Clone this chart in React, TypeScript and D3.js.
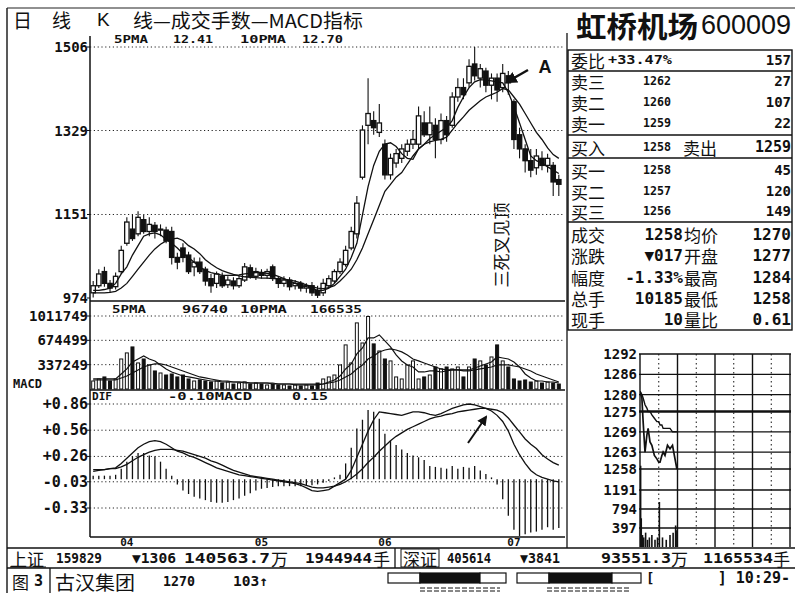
import React from 'react';
import * as d3 from 'd3';

// ---------- Daily K-line data (price in 0.01 yuan) ----------
const opens = [985,1000,1030,1005,998,1030,1090,1120,1110,1140,1115,1128,1118,1118,1115,1060,1080,1065,1040,1050,1035,1015,1005,1020,1002,1010,1000,1012,1038,1020,1028,1022,1040,1015,1005,1012,1000,1005,995,1000,990,985,1000,1010,1030,1045,1080,1110,1230,1340,1350,1325,1300,1235,1260,1270,1285,1300,1300,1345,1320,1340,1310,1350,1340,1400,1420,1430,1470,1440,1455,1425,1440,1420,1445,1390,1320,1290,1265,1250,1270,1255,1255,1225];
const closes = [1000,1025,1005,995,1020,1075,1135,1100,1145,1115,1130,1115,1120,1095,1060,1050,1060,1030,1050,1030,1010,1000,1025,1000,1012,1000,1015,1040,1020,1030,1022,1030,1018,1005,1012,998,1005,995,1000,985,980,1005,1015,1030,1050,1075,1115,1175,1330,1365,1335,1345,1235,1270,1280,1290,1300,1310,1360,1320,1345,1310,1350,1320,1400,1420,1405,1465,1445,1460,1425,1440,1415,1450,1430,1310,1290,1265,1245,1275,1255,1270,1220,1215];
const highs = [1010,1035,1040,1012,1028,1085,1145,1150,1158,1150,1145,1135,1130,1125,1125,1070,1090,1072,1060,1060,1040,1025,1030,1028,1020,1018,1022,1048,1045,1038,1035,1036,1045,1020,1020,1018,1012,1010,1005,1008,1000,1015,1022,1035,1058,1085,1125,1190,1340,1440,1370,1385,1310,1280,1290,1300,1310,1330,1380,1370,1380,1355,1365,1360,1410,1440,1440,1480,1506,1470,1462,1450,1450,1470,1455,1395,1335,1300,1290,1290,1285,1280,1262,1235];
const lows = [975,995,998,985,992,1025,1085,1095,1105,1110,1105,1100,1105,1090,1045,1035,1050,1025,1020,1025,1000,985,995,995,995,992,995,1008,1015,1012,1015,1015,1010,995,998,990,992,988,985,978,974,978,995,1005,1025,1040,1075,1100,1225,1300,1320,1315,1225,1225,1250,1260,1275,1290,1290,1315,1300,1270,1300,1305,1335,1390,1395,1420,1435,1420,1410,1395,1390,1410,1405,1290,1270,1240,1230,1235,1245,1240,1190,1190];
const ma5 = [990,990,992,995,1005,1025,1040,1065,1085,1105,1110,1112,1108,1098,1090,1080,1068,1060,1050,1040,1032,1028,1025,1022,1022,1022,1023,1025,1026,1028,1028,1026,1024,1020,1015,1010,1005,1000,998,995,990,990,995,1005,1020,1035,1060,1090,1150,1210,1255,1285,1300,1303,1295,1280,1270,1268,1290,1300,1312,1320,1328,1335,1350,1378,1400,1420,1432,1437,1436,1434,1432,1430,1410,1380,1345,1310,1275,1265,1260,1252,1245,1238];
const ma10 = [985,985,985,986,988,995,1005,1020,1035,1050,1065,1078,1088,1095,1099,1101,1096,1085,1078,1068,1055,1046,1038,1032,1028,1024,1021,1019,1018,1017,1016,1016,1015,1015,1014,1012,1010,1006,1002,998,995,994,996,1000,1010,1022,1035,1055,1080,1110,1140,1170,1200,1215,1230,1240,1258,1275,1290,1300,1305,1308,1310,1315,1330,1345,1358,1372,1382,1392,1400,1405,1410,1418,1415,1400,1385,1365,1345,1325,1310,1292,1278,1270];

// ---------- Volume (hands) ----------
const volumes = [111000,139000,167000,111000,139000,416000,500000,583000,361000,416000,333000,250000,222000,194000,208000,167000,194000,139000,111000,125000,111000,97000,111000,83000,97000,69000,83000,97000,69000,83000,69000,56000,69000,56000,56000,42000,56000,42000,56000,42000,83000,139000,167000,194000,333000,611000,361000,916000,638000,1005000,625000,527000,416000,389000,167000,139000,333000,389000,139000,167000,194000,305000,278000,305000,278000,305000,167000,305000,416000,389000,333000,444000,611000,389000,305000,139000,111000,125000,97000,111000,83000,97000,83000,69000];
const volMa5 = [139000,139000,139000,139000,139000,208000,278000,375000,416000,458000,416000,389000,333000,278000,236000,208000,180000,167000,153000,139000,125000,111000,111000,97000,97000,97000,97000,83000,83000,83000,83000,83000,69000,69000,69000,69000,56000,56000,56000,56000,56000,69000,97000,125000,180000,278000,347000,486000,569000,708000,708000,750000,666000,583000,472000,389000,333000,305000,236000,236000,250000,250000,236000,250000,264000,264000,264000,264000,291000,319000,347000,375000,444000,430000,416000,375000,305000,208000,153000,111000,111000,97000,97000,83000];
const volMa10 = [125000,125000,125000,125000,125000,153000,180000,222000,264000,305000,333000,347000,347000,333000,305000,278000,250000,222000,194000,167000,153000,139000,125000,111000,111000,97000,97000,97000,83000,83000,83000,83000,83000,69000,69000,69000,69000,69000,69000,69000,69000,69000,83000,97000,125000,167000,208000,278000,333000,416000,458000,514000,541000,555000,541000,514000,472000,416000,389000,361000,333000,305000,278000,264000,264000,264000,250000,250000,264000,278000,291000,305000,333000,333000,333000,319000,305000,278000,250000,208000,180000,153000,125000,97000];

// ---------- MACD ----------
const dif = [0.09,0.10,0.11,0.12,0.13,0.18,0.24,0.30,0.36,0.40,0.43,0.44,0.43,0.40,0.36,0.32,0.30,0.27,0.25,0.22,0.19,0.16,0.13,0.11,0.09,0.07,0.05,0.04,0.03,0.02,0.01,0.0,-0.01,-0.02,-0.03,-0.04,-0.05,-0.07,-0.10,-0.13,-0.14,-0.13,-0.12,-0.08,-0.04,0.0,0.10,0.25,0.40,0.55,0.68,0.77,0.76,0.75,0.74,0.73,0.75,0.77,0.77,0.76,0.74,0.73,0.75,0.78,0.81,0.83,0.85,0.86,0.85,0.83,0.81,0.78,0.73,0.66,0.55,0.40,0.28,0.18,0.10,0.05,0.02,0.0,-0.02,-0.03];
const dea = [0.11,0.11,0.11,0.12,0.12,0.14,0.17,0.21,0.25,0.28,0.31,0.33,0.34,0.34,0.34,0.33,0.32,0.30,0.28,0.26,0.24,0.21,0.19,0.16,0.13,0.10,0.08,0.06,0.04,0.03,0.02,0.01,0.0,-0.01,-0.02,-0.03,-0.04,-0.05,-0.07,-0.09,-0.10,-0.10,-0.09,-0.08,-0.06,-0.03,0.01,0.06,0.12,0.19,0.25,0.32,0.38,0.44,0.49,0.53,0.57,0.60,0.63,0.66,0.69,0.71,0.72,0.74,0.75,0.77,0.78,0.79,0.80,0.81,0.81,0.80,0.79,0.76,0.70,0.62,0.54,0.46,0.40,0.35,0.28,0.23,0.19,0.16];
const macdHist = [0.04,0.04,0.04,0.04,0.05,0.12,0.20,0.26,0.30,0.30,0.27,0.26,0.20,0.12,0.04,-0.06,-0.13,-0.17,-0.20,-0.22,-0.24,-0.26,-0.27,-0.27,-0.26,-0.24,-0.22,-0.19,-0.16,-0.13,-0.11,-0.10,-0.09,-0.08,-0.08,-0.08,-0.08,-0.08,-0.07,-0.07,-0.06,-0.04,-0.02,0.02,0.05,0.18,0.36,0.58,0.68,0.79,0.77,0.69,0.52,0.44,0.39,0.34,0.30,0.27,0.25,0.22,0.15,0.14,0.13,0.12,0.15,0.12,0.14,0.13,0.15,0.10,0.06,0.02,-0.06,-0.23,-0.42,-0.58,-0.65,-0.63,-0.61,-0.60,-0.58,-0.55,-0.58,-0.56];

// ---------- Axis labels ----------
const monthLabels = ['04', '05', '06', '07'];
const monthStart = [6, 30, 52, 75];
const priceTicks = [1506, 1329, 1151, 974];
const volTicks = [1011749, 674499, 337249];
const macdTicks = [0.86, 0.56, 0.26, -0.03, -0.33];
const macdTickText = ['+0.86', '+0.56', '+0.26', '-0.03', '-0.33'];

// ---------- Intraday mini chart ----------
const miniMinutes = [0,3,5,8,11,13,16,19,23,27,30,32,35,37,40,44,48,52,55,59];
const miniPrice = [1281,1279,1272,1263,1268,1270,1266,1265,1262,1261,1260,1260,1262,1263,1262,1265,1264,1265,1262,1258];
const miniAvg = [1281,1280,1279,1277,1276,1275,1275,1274,1273,1272,1272,1271,1271,1270,1270,1270,1270,1269,1269,1269];
const miniVolMin = [1,2,4,6,9,12,15,19,24,28,31,36,42,48,53,57,59];
const miniVol = [1700,600,250,200,300,150,200,250,150,200,940,200,150,250,300,450,350];
const miniPriceTicks = [1292, 1286, 1280, 1275, 1269, 1263, 1258];
const miniVolTicks = [1191, 794, 397];

// ---------- Quote table ----------
const askRows = [['卖三', '1262', '27'], ['卖二', '1260', '107'], ['卖一', '1259', '22']];
const bidRows = [['买一', '1258', '45'], ['买二', '1257', '120'], ['买三', '1256', '149']];
const statRows = [
  ['成交', '1258', '均价', '1270'],
  ['涨跌', '▼017', '开盘', '1277'],
  ['幅度', '-1.33%', '最高', '1284'],
  ['总手', '10185', '最低', '1258'],
  ['现手', '10', '量比', '0.61'],
];
const powerA = [32, 60, 26];
const powerB = [32, 63, 29];

const MONO = "'DejaVu Sans Mono', monospace";
const CJK = "'Noto Sans CJK SC', sans-serif";
const SANS = "'Liberation Sans', Arial, sans-serif";

function T(props: any) {
  const { x, y, s, size = 15, anchor = 'start', font = MONO, weight = 'bold', len, fill = '#111', rotate } = props;
  return (
    <text
      x={x}
      y={y}
      fontSize={size}
      fontFamily={font}
      fontWeight={weight}
      textAnchor={anchor}
      dominantBaseline="central"
      fill={fill}
      textLength={len}
      lengthAdjust={len ? 'spacingAndGlyphs' : undefined}
      transform={rotate}
    >
      {s}
    </text>
  );
}

export default function App() {
  const N = closes.length;
  const x = d3.scaleBand<number>().domain(d3.range(N)).range([91, 561]).paddingInner(0.22);
  const cx = (i: number) => (x(i) as number) + x.bandwidth() / 2;
  const bw = x.bandwidth();
  const yP = d3.scaleLinear().domain([974, 1506]).range([298, 47]);
  const yV = d3.scaleLinear().domain([0, 1011749]).range([389, 316]);
  const yM = d3.scaleLinear().domain([-0.33, 0.86]).range([508, 404]);

  const lineP = d3.line<number>().x((_, i) => cx(i)).y((d) => yP(d));
  const lineV = d3.line<number>().x((_, i) => cx(i)).y((d) => yV(d));
  const lineM = d3.line<number>().x((_, i) => cx(i)).y((d) => yM(d));

  const mx = d3.scaleLinear().domain([0, 240]).range([640, 790]);
  const myP = d3.scaleLinear().domain([1258, 1292]).range([469, 354]);
  const myV = d3.scaleLinear().domain([0, 1191]).range([547, 490]);
  const miniLine = (arr: number[]) =>
    d3.line<number>().x((_, i) => mx(miniMinutes[i])).y((d) => myP(d))(arr) as string;

  const L = 90, R = 565;
  const dot = '1.2,2.6';

  const rowY = { wei: 60, buyin: 147 };
  const askY = [81, 102, 123];
  const bidY = [170, 191, 211];
  const statY = [234, 255, 277, 298, 319];

  const segs = (start: number, arr: number[]) => {
    const cum = d3.cumsum(arr);
    return arr.map((w, k) => ({ x: start + (k === 0 ? 0 : cum[k - 1]), w, dark: k === 1 }));
  };

  return (
    <svg width={795} height={593} style={{ position: 'absolute', left: 0, top: 0, background: '#fff' }}>
      <defs>
        <marker id="ah" viewBox="0 0 10 10" refX="8" refY="5" markerWidth="5" markerHeight="5" orient="auto">
          <path d="M0,0 L10,5 L0,10 z" fill="#111" />
        </marker>
        <clipPath id="cp">
          <rect x={L} y={33} width={R - L} height={537 - 33} />
        </clipPath>
        <clipPath id="mini">
          <rect x={640} y={354} width={151} height={193} />
        </clipPath>
      </defs>
      <rect x={0} y={0} width={795} height={593} fill="#fff" />

      {/* outer frame */}
      <line x1={7} y1={8} x2={795} y2={8} stroke="#222" strokeWidth={1.2} />
      <line x1={7} y1={8} x2={7} y2={593} stroke="#222" strokeWidth={1.5} />

      {/* left title */}
      <T x={13} y={19} s="日" font={CJK} weight="normal" size={19} />
      <T x={52} y={19} s="线" font={CJK} weight="normal" size={19} />
      <T x={97} y={19} s="K" font={SANS} weight="normal" size={19} />
      <T x={133} y={19} s="线—成交手数—MACD指标" font={CJK} weight="normal" size={19} len={230} />

      {/* right title */}
      <T x={576} y={25} s="虹桥机场" font={CJK} weight="bold" size={29} len={122} />
      <T x={701} y={25} s="600009" font={SANS} weight="normal" size={27} />

      {/* chart frame */}
      <line x1={L} y1={36} x2={L} y2={537} stroke="#111" strokeWidth={1.5} />
      <line x1={R + 2} y1={33} x2={R + 2} y2={548} stroke="#111" strokeWidth={1.3} />
      <line x1={L} y1={301} x2={R} y2={301} stroke="#111" strokeWidth={1.3} />
      <line x1={L} y1={390} x2={R} y2={390} stroke="#111" strokeWidth={1.3} />
      <line x1={L} y1={537} x2={R} y2={537} stroke="#111" strokeWidth={1.5} />

      {/* price grid + labels */}
      {priceTicks.map((t, k) => (
        <g key={'pt' + t}>
          {k < 3 && <line x1={L} x2={R} y1={yP(t)} y2={yP(t)} stroke="#222" strokeDasharray={dot} />}
          <line x1={L - 3} x2={L} y1={yP(t)} y2={yP(t)} stroke="#111" />
          <T x={88} y={yP(t)} s={String(t)} anchor="end" size={14} />
        </g>
      ))}
      {volTicks.map((t) => (
        <g key={'vt' + t}>
          <line x1={L} x2={R} y1={yV(t)} y2={yV(t)} stroke="#222" strokeDasharray={dot} />
          <line x1={L - 3} x2={L} y1={yV(t)} y2={yV(t)} stroke="#111" />
          <T x={88} y={yV(t)} s={String(t)} anchor="end" size={14} />
        </g>
      ))}
      <T x={13} y={384} s="MACD" size={12} />
      {macdTicks.map((t, k) => (
        <g key={'mt' + t}>
          <line x1={L} x2={R} y1={yM(t)} y2={yM(t)} stroke="#222" strokeDasharray={dot} />
          <line x1={L - 3} x2={L} y1={yM(t)} y2={yM(t)} stroke="#111" />
          <T x={88} y={yM(t)} s={macdTickText[k]} anchor="end" size={15} />
        </g>
      ))}

      {/* legends */}
      <T x={114} y={39} s="5PMA" size={11} len={34} />
      <T x={173} y={39} s="12.41" size={11} len={40} />
      <T x={240} y={39} s="10PMA" size={11} len={46} />
      <T x={302} y={39} s="12.70" size={11} len={41} />
      <T x={112} y={309} s="5PMA" size={11} len={34} />
      <T x={182} y={309} s="96740" size={11} len={46} />
      <T x={240} y={309} s="10PMA" size={11} len={47} />
      <T x={310} y={309} s="166535" size={11} len={52} />
      <T x={92} y={396} s="DIF" size={11} len={20} />
      <T x={168} y={396} s="-0.10MACD" size={11} len={84} />
      <T x={292} y={396} s="0.15" size={11} len={36} />

      <g clipPath="url(#cp)">
        {/* candles */}
        {closes.map((c, i) => {
          const o = opens[i];
          const up = c >= o;
          const top = yP(Math.max(o, c));
          const h = Math.max(1, yP(Math.min(o, c)) - top);
          return (
            <g key={'c' + i}>
              <line x1={cx(i)} x2={cx(i)} y1={yP(highs[i])} y2={yP(lows[i])} stroke="#111" strokeWidth={1.1} />
              <rect x={x(i)} y={top} width={bw} height={h} fill={up ? '#fff' : '#111'} stroke="#111" strokeWidth={1.3} />
            </g>
          );
        })}
        <path d={lineP(ma5) as string} fill="none" stroke="#111" strokeWidth={1.3} />
        <path d={lineP(ma10) as string} fill="none" stroke="#111" strokeWidth={1.3} />

        {/* volume */}
        {volumes.map((v, i) => {
          const up = closes[i] >= opens[i];
          return (
            <rect key={'v' + i} x={cx(i) - 1.5} y={yV(v)} width={3} height={yV(0) - yV(v)}
              fill={up ? '#fff' : '#111'} stroke="#111" strokeWidth={1} />
          );
        })}
        <path d={lineV(volMa5) as string} fill="none" stroke="#111" strokeWidth={1.2} />
        <path d={lineV(volMa10) as string} fill="none" stroke="#111" strokeWidth={1.2} />

        {/* macd */}
        {macdHist.map((v, i) => (
          <line key={'h' + i} x1={cx(i)} x2={cx(i)} y1={yM(0)} y2={yM(v)} stroke="#111" strokeWidth={1.3} />
        ))}
        <path d={lineM(dif) as string} fill="none" stroke="#111" strokeWidth={1.3} />
        <path d={lineM(dea) as string} fill="none" stroke="#111" strokeWidth={1.3} />
      </g>

      {/* month labels */}
      {monthLabels.map((m, k) => (
        <T key={m} x={cx(monthStart[k])} y={542} s={m} anchor="middle" size={11} />
      ))}

      {/* annotations */}
      <T x={545} y={67} s="A" font={SANS} size={18} anchor="middle" />
      <line x1={528} y1={70} x2={507} y2={82} stroke="#111" strokeWidth={2.4} markerEnd="url(#ah)" />
      <line x1={468} y1={443} x2={486} y2={417} stroke="#111" strokeWidth={2} markerEnd="url(#ah)" />
      <T x={0} y={0} s="三死叉见顶" font={CJK} weight="normal" size={17} anchor="middle" rotate="translate(500,245) rotate(-90)" />

      {/* quote table */}
      <rect x={568} y={50} width={224} height={280} fill="none" stroke="#111" strokeWidth={1.4} />
      {[71, 135, 158, 222].map((yy) => (
        <line key={'tl' + yy} x1={568} x2={792} y1={yy} y2={yy} stroke="#111" strokeWidth={1.3} />
      ))}
      <T x={571} y={rowY.wei} s="委比" font={CJK} weight="normal" size={17} />
      <T x={608} y={rowY.wei} s="+33.47%" size={12} len={64} />
      <T x={791} y={rowY.wei} s="157" size={14} anchor="end" />
      {askRows.map((r, k) => (
        <g key={'a' + k}>
          <T x={571} y={askY[k]} s={r[0]} font={CJK} weight="normal" size={17} />
          <T x={643} y={askY[k]} s={r[1]} size={12} len={28} />
          <T x={791} y={askY[k]} s={r[2]} size={14} anchor="end" />
        </g>
      ))}
      <T x={571} y={rowY.buyin} s="买入" font={CJK} weight="normal" size={17} />
      <T x={643} y={rowY.buyin} s="1258" size={12} len={28} />
      <T x={683} y={rowY.buyin} s="卖出" font={CJK} weight="normal" size={17} />
      <T x={791} y={rowY.buyin} s="1259" size={15} anchor="end" />
      {bidRows.map((r, k) => (
        <g key={'b' + k}>
          <T x={571} y={bidY[k]} s={r[0]} font={CJK} weight="normal" size={17} />
          <T x={643} y={bidY[k]} s={r[1]} size={12} len={28} />
          <T x={791} y={bidY[k]} s={r[2]} size={14} anchor="end" />
        </g>
      ))}
      {statRows.map((r, k) => (
        <g key={'s' + k}>
          <T x={571} y={statY[k]} s={r[0]} font={CJK} weight="normal" size={17} />
          <T x={683} y={statY[k]} s={r[1]} size={16} anchor="end" />
          <T x={684} y={statY[k]} s={r[2]} font={CJK} weight="normal" size={17} />
          <T x={791} y={statY[k]} s={r[3]} size={16} anchor="end" />
        </g>
      ))}

      {/* mini intraday chart */}
      {miniPriceTicks.map((t) => (
        <g key={'mp' + t}>
          <line x1={639} x2={791} y1={myP(t)} y2={myP(t)} stroke="#111" strokeWidth={t === 1275 ? 2.6 : 1.3} />
          <T x={637} y={myP(t)} s={String(t)} anchor="end" size={14} />
        </g>
      ))}
      {miniVolTicks.map((t) => (
        <g key={'mv' + t}>
          <line x1={639} x2={791} y1={myV(t)} y2={myV(t)} stroke="#111" strokeWidth={1.3} />
          <T x={637} y={myV(t)} s={String(t)} anchor="end" size={14} />
        </g>
      ))}
      {[0, 60, 120, 180, 240].map((m) => (
        <line key={'vs' + m} x1={mx(m)} x2={mx(m)} y1={354} y2={547} stroke="#111" strokeWidth={1.4} />
      ))}
      {[30, 90, 150, 210].map((m) => (
        <line key={'vd' + m} x1={mx(m)} x2={mx(m)} y1={354} y2={547} stroke="#111" strokeDasharray="1.5,3" />
      ))}
      <g clipPath="url(#mini)">
        <path d={miniLine(miniAvg)} fill="none" stroke="#111" strokeWidth={1.4} />
        <path d={miniLine(miniPrice)} fill="none" stroke="#111" strokeWidth={1.7} />
        {miniVol.map((v, k) => (
          <line key={'mvb' + k} x1={mx(miniVolMin[k])} x2={mx(miniVolMin[k])} y1={myV(0)} y2={myV(v)} stroke="#111" strokeWidth={1.6} />
        ))}
      </g>

      {/* bottom rows */}
      <line x1={7} x2={795} y1={548} y2={548} stroke="#111" strokeWidth={1.5} />
      <line x1={7} x2={795} y1={568} y2={568} stroke="#111" strokeWidth={1.3} />
      <line x1={395} x2={395} y1={548} y2={568} stroke="#111" strokeWidth={1.3} />
      <line x1={50} x2={50} y1={568} y2={593} stroke="#111" strokeWidth={1.3} />

      <T x={10} y={558} s="上证" font={CJK} weight="normal" size={17} />
      <line x1={10} x2={46} y1={567} y2={567} stroke="#111" />
      <T x={56} y={558} s="159829" size={14} len={46} />
      <T x={132} y={558} s="▼1306" size={14} len={44} />
      <T x={184} y={558} s="140563.7" size={14} len={86} />
      <T x={271} y={558} s="万" font={CJK} weight="normal" size={17} />
      <T x={305} y={558} s="1944944" size={14} len={67} />
      <T x={373} y={558} s="手" font={CJK} weight="normal" size={17} />

      <rect x={401} y={549} width={38} height={18} fill="none" stroke="#111" />
      <T x={403} y={558} s="深证" font={CJK} weight="normal" size={17} />
      <T x={447} y={558} s="405614" size={14} len={44} />
      <T x={520} y={558} s="▼3841" size={14} len={40} />
      <T x={601} y={558} s="93551.3" size={14} len={70} />
      <T x={671} y={558} s="万" font={CJK} weight="normal" size={17} />
      <T x={703} y={558} s="1165534" size={14} len={70} />
      <T x={773} y={558} s="手" font={CJK} weight="normal" size={17} />

      <T x={12} y={581} s="图" font={CJK} weight="normal" size={17} />
      <T x={34} y={581} s="3" size={15} />
      <T x={55} y={581} s="古汉集团" font={CJK} weight="normal" size={19} len={80} />
      <T x={163} y={581} s="1270" size={14} len={32} />
      <T x={233} y={581} s="103↑" size={14} len={35} />

      {segs(388, powerA).map((s, k) => (
        <rect key={'pa' + k} x={s.x} y={573} width={s.w} height={10} fill={s.dark ? '#111' : '#fff'} stroke="#111" strokeWidth={1.2} />
      ))}
      {segs(517, powerB).map((s, k) => (
        <rect key={'pb' + k} x={s.x} y={573} width={s.w} height={10} fill={s.dark ? '#111' : '#fff'} stroke="#111" strokeWidth={1.2} />
      ))}
      <line x1={420} x2={500} y1={588} y2={588} stroke="#111" strokeDasharray="5,2" strokeWidth={1} />
      <line x1={420} x2={500} y1={591} y2={591} stroke="#111" strokeDasharray="5,2" strokeWidth={1} />
      <line x1={547} x2={630} y1={588} y2={588} stroke="#111" strokeDasharray="5,2" strokeWidth={1} />
      <line x1={547} x2={630} y1={591} y2={591} stroke="#111" strokeDasharray="5,2" strokeWidth={1} />
      <T x={646} y={578} s="[" size={14} />
      <T x={790} y={578} s="] 10:29-" size={15} anchor="end" />
    </svg>
  );
}
